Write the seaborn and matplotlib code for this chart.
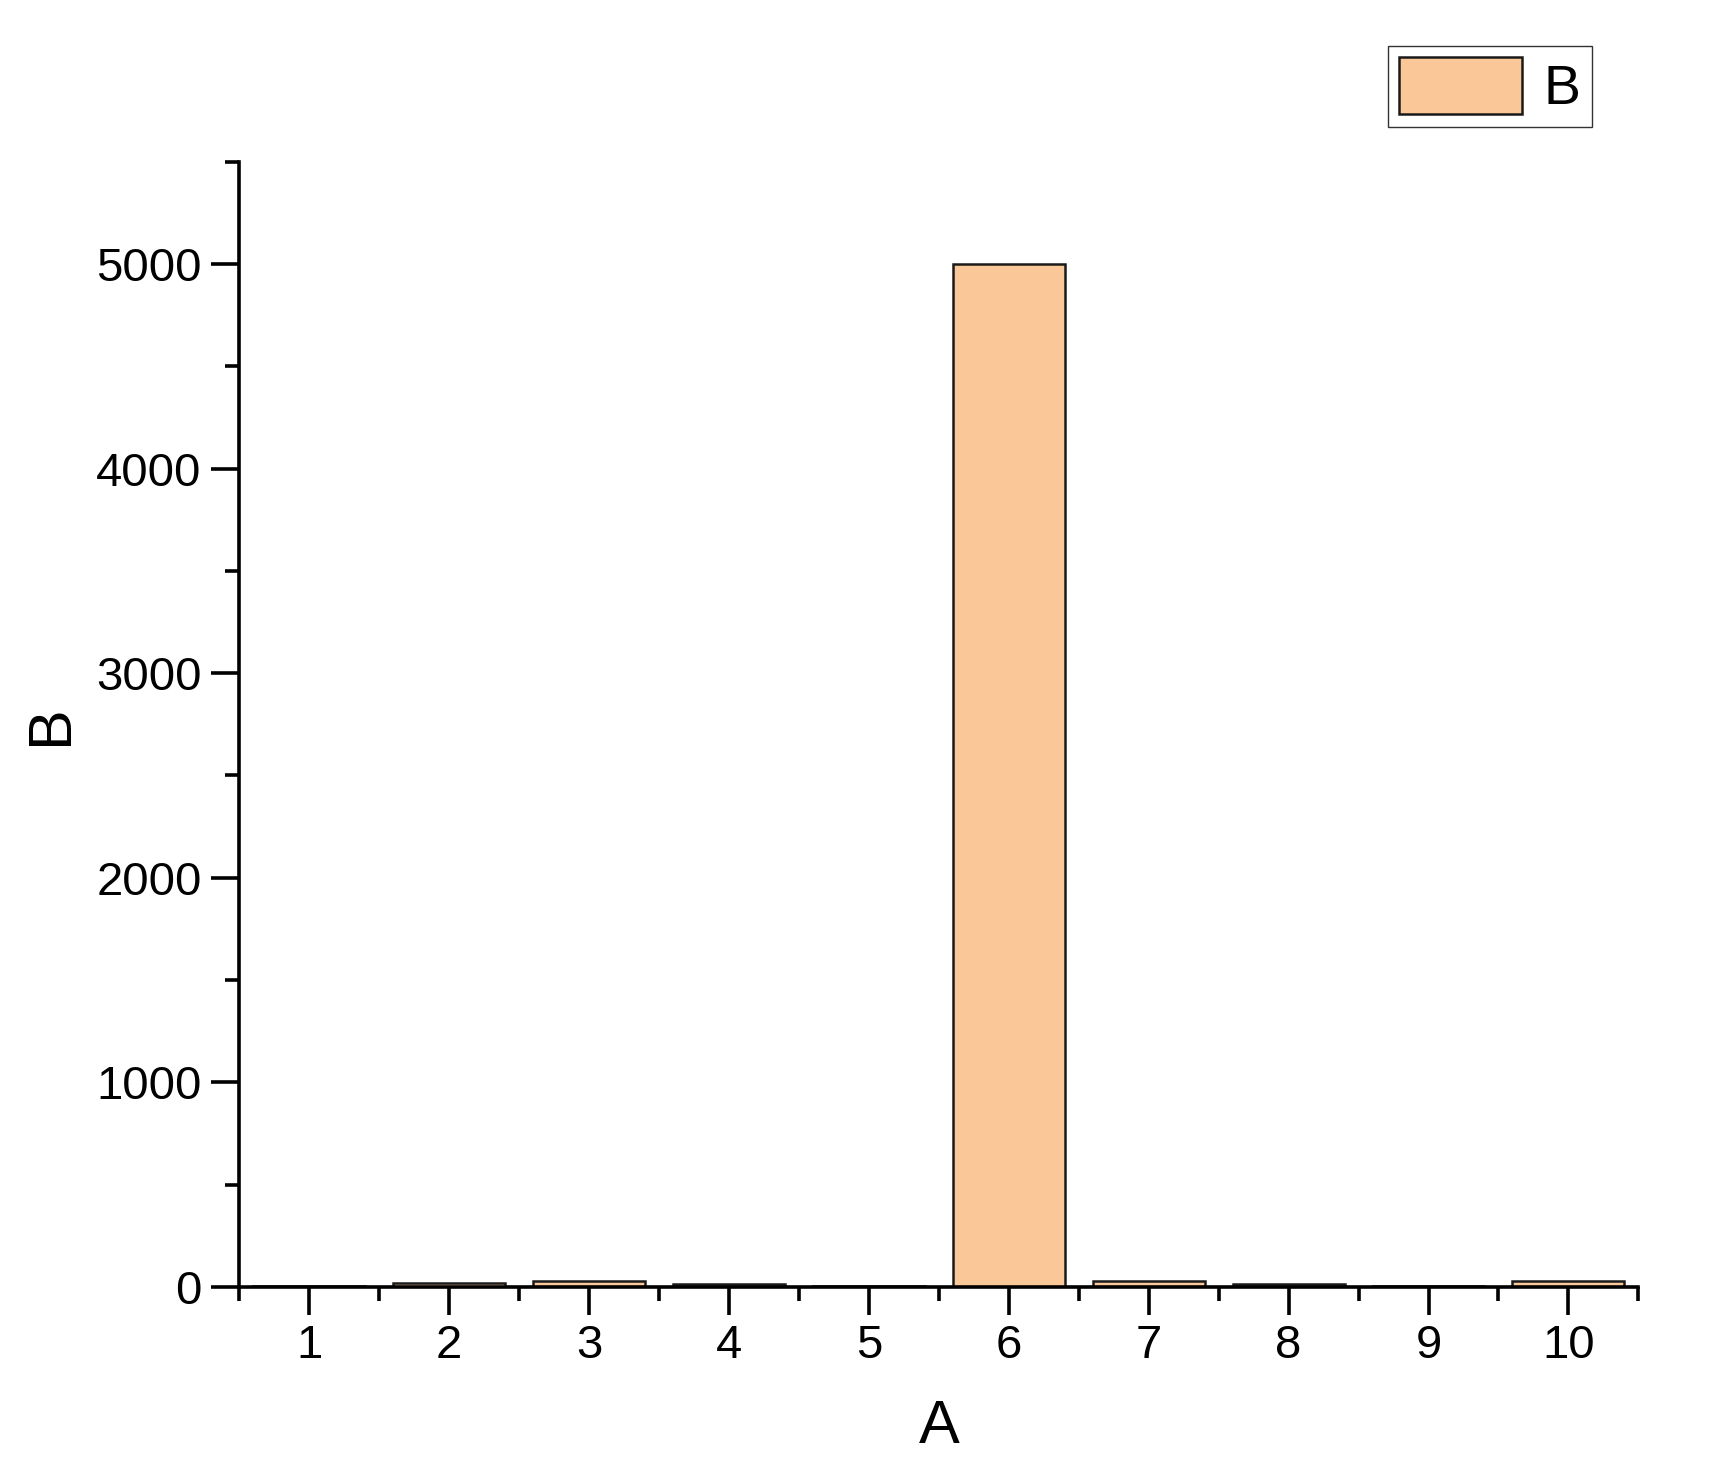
import numpy as np
import pandas as pd
import seaborn as sns
import matplotlib.pyplot as plt
from matplotlib.ticker import MultipleLocator

# datos
categorias = [1, 2, 3, 4, 5, 6, 7, 8, 9, 10]
valores = [3, 18, 28, 16, 3, 5000, 28, 15, 3, 30]

df = pd.DataFrame({'A': categorias, 'B': valores})

sns.set_theme(style='ticks')
plt.rcParams['font.family'] = ['Liberation Sans', 'DejaVu Sans']
plt.rcParams['text.color'] = 'black'
plt.rcParams['axes.labelcolor'] = 'black'
plt.rcParams['xtick.color'] = 'black'
plt.rcParams['ytick.color'] = 'black'
plt.rcParams['axes.edgecolor'] = 'black'

fig = plt.figure(figsize=(17.21, 14.70), dpi=100)
ax = fig.add_axes([0.139, 0.1245, 0.813, 0.7655])

sns.barplot(data=df, x='A', y='B', native_scale=True, width=0.8,
            color='#FAC898', saturation=1, edgecolor='#1a1a1a', linewidth=1.8,
            label='B', ax=ax)

ax.set_xlim(0.5, 10.5)
ax.set_ylim(0, 5500)
ax.xaxis.set_major_locator(MultipleLocator(1))
ax.xaxis.set_minor_locator(MultipleLocator(0.5))
ax.yaxis.set_major_locator(MultipleLocator(1000))
ax.yaxis.set_minor_locator(MultipleLocator(500))

sns.despine(ax=ax)
for s in ['left', 'bottom']:
    ax.spines[s].set_linewidth(2.6)
ax.tick_params(which='major', length=20, width=2.6, labelsize=34, pad=7)
ax.tick_params(which='minor', length=10, width=2.6)

ax.set_xlabel('A', fontsize=44, labelpad=22)
ax.set_ylabel('B', fontsize=44, labelpad=12)

ax.legend(loc='upper right', bbox_to_anchor=(0.925, 0.969), bbox_transform=fig.transFigure,
          fontsize=40, frameon=True, fancybox=False, edgecolor='black',
          handlelength=2.2, handleheight=1.2, handletextpad=0.4, borderpad=0.2, borderaxespad=0)

fig.savefig('out.png', dpi=100, facecolor='white')
